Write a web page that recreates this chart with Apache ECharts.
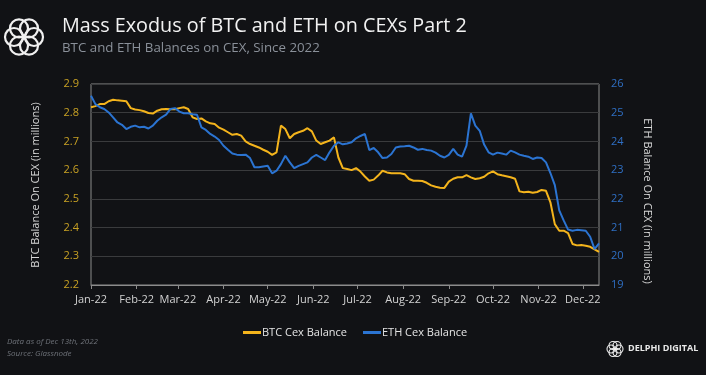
<!DOCTYPE html>
<html>
<head>
<meta charset="utf-8">
<script src="https://cdn.jsdelivr.net/npm/echarts@6/dist/echarts.min.js"></script>
<style>
  html, body { margin: 0; padding: 0; background: #111215; }
  #chart { width: 706px; height: 375px; }
</style>
</head>
<body>
<div id="chart"></div>
<script>
// one reading every 3 days, starting Jan 1st 2022
var start_day = Date.UTC(2022, 0, 1)
var step_days = 3
var month_names = ['Jan', 'Feb', 'Mar', 'Apr', 'May', 'Jun', 'Jul', 'Aug', 'Sep', 'Oct', 'Nov', 'Dec']

// BTC balance on CEX, millions
var btc_balance = [
    2.819, 2.823, 2.830, 2.830, 2.840, 2.845, 2.843, 2.842, 2.840, 2.816,
    2.811, 2.809, 2.805, 2.799, 2.797, 2.807, 2.812, 2.813, 2.812, 2.812,
    2.816, 2.819, 2.813, 2.784, 2.778, 2.780, 2.770, 2.763, 2.761, 2.748,
    2.741, 2.732, 2.723, 2.726, 2.720, 2.700, 2.691, 2.685, 2.679, 2.671,
    2.664, 2.653, 2.662, 2.755, 2.743, 2.711, 2.726, 2.732, 2.737, 2.746,
    2.735, 2.703, 2.691, 2.697, 2.703, 2.714, 2.644, 2.607, 2.604, 2.600,
    2.607, 2.595, 2.578, 2.563, 2.567, 2.581, 2.598, 2.592, 2.589, 2.589,
    2.589, 2.586, 2.569, 2.563, 2.563, 2.562, 2.556, 2.547, 2.542, 2.539,
    2.538, 2.560, 2.570, 2.575, 2.575, 2.583, 2.575, 2.569, 2.572, 2.577,
    2.589, 2.596, 2.586, 2.582, 2.579, 2.575, 2.570, 2.526, 2.523, 2.525,
    2.521, 2.524, 2.531, 2.528, 2.488, 2.412, 2.389, 2.389, 2.381, 2.343,
    2.338, 2.339, 2.337, 2.333, 2.324, 2.315
]

// ETH balance on CEX, millions
var eth_balance = [
    25.59, 25.30, 25.19, 25.13, 25.01, 24.84, 24.66, 24.58, 24.43, 24.51,
    24.55, 24.49, 24.51, 24.45, 24.55, 24.72, 24.84, 24.93, 25.13, 25.16,
    25.04, 24.98, 24.98, 24.95, 24.93, 24.49, 24.40, 24.26, 24.17, 24.05,
    23.85, 23.71, 23.58, 23.54, 23.53, 23.54, 23.42, 23.10, 23.10, 23.13,
    23.15, 22.89, 22.98, 23.21, 23.50, 23.27, 23.07, 23.15, 23.21, 23.27,
    23.44, 23.53, 23.44, 23.35, 23.62, 23.85, 23.97, 23.90, 23.93, 23.97,
    24.11, 24.19, 24.26, 23.70, 23.77, 23.62, 23.42, 23.44, 23.56, 23.79,
    23.82, 23.83, 23.85, 23.79, 23.71, 23.74, 23.70, 23.68, 23.61, 23.50,
    23.44, 23.53, 23.74, 23.54, 23.47, 23.85, 24.98, 24.55, 24.37, 23.89,
    23.62, 23.54, 23.61, 23.58, 23.54, 23.68, 23.62, 23.54, 23.50, 23.47,
    23.39, 23.44, 23.42, 23.27, 22.90, 22.48, 21.60, 21.25, 20.93, 20.89,
    20.92, 20.91, 20.89, 20.68, 20.25, 20.45
]

function with_dates(values) {
    var out = []
    for (var i = 0; i < values.length; i++) {
        out.push([start_day + i * step_days * 86400000, values[i]])
    }
    return out
}

// knot logo made of rings
function knot(cx, cy, dist, r, width) {
    var rings = []
    for (var i = 0; i < 6; i++) {
        var a = i * Math.PI / 3
        rings.push({
            type: 'circle',
            shape: { cx: cx + dist * Math.cos(a), cy: cy + dist * Math.sin(a), r: r },
            style: { fill: 'none', stroke: '#f0f0f0', lineWidth: width }
        })
    }
    return rings
}

var myChart = echarts.init(document.getElementById('chart'))

var option = {
    backgroundColor: '#111215',
    useUTC: true,
    animation: false,
    textStyle: { fontFamily: 'Open Sans' },
    grid: {
        left: 91, right: 107, top: 84, bottom: 90,
        show: true, borderColor: '#8c8c8c', borderWidth: 1
    },
    legend: {
        left: 238, top: 322,
        icon: 'rect', itemWidth: 18, itemHeight: 3, itemGap: 16,
        textStyle: { color: '#e4e4e4', fontSize: 11, fontFamily: 'Open Sans', padding: [0, 0, 0, -4] },
        data: ['BTC Cex Balance', 'ETH Cex Balance']
    },
    xAxis: {
        type: 'time',
        min: start_day,
        max: Date.UTC(2022, 11, 12),
        splitNumber: 12,
        axisLine: { lineStyle: { color: '#8c8c8c' } },
        axisTick: { show: true, length: 4, lineStyle: { color: '#8c8c8c' } },
        splitLine: { show: false },
        axisLabel: {
            color: '#d2d2d2', fontSize: 11, margin: 9, hideOverlap: false,
            showMaxLabel: false,
            formatter: function (value) {
                var d = new Date(value)
                if (d.getUTCDate() !== 1) return ''
                return month_names[d.getUTCMonth()] + '-22'
            }
        }
    },
    yAxis: [
        {
            type: 'value', min: 2.2, max: 2.9, interval: 0.1,
            axisLine: { show: false }, axisTick: { show: false },
            splitLine: { lineStyle: { color: '#3a3b3d' } },
            axisLabel: {
                color: '#c9a224', fontSize: 11, margin: 12,
                formatter: function (v) { return v.toFixed(1) }
            }
        },
        {
            type: 'value', min: 19, max: 26, interval: 1,
            axisLine: { show: false }, axisTick: { show: false },
            splitLine: { show: false },
            axisLabel: { color: '#2f6fc4', fontSize: 11, margin: 12 }
        }
    ],
    series: [
        {
            name: 'BTC Cex Balance',
            type: 'line',
            yAxisIndex: 0,
            showSymbol: false,
            color: '#f4b41c',
            lineStyle: { width: 2 },
            data: with_dates(btc_balance)
        },
        {
            name: 'ETH Cex Balance',
            type: 'line',
            yAxisIndex: 1,
            showSymbol: false,
            color: '#2b74d2',
            lineStyle: { width: 2 },
            data: with_dates(eth_balance)
        }
    ],
    graphic: [
        {
            type: 'text', left: 62, top: 16,
            style: { text: 'Mass Exodus of BTC and ETH on CEXs Part 2', fill: '#f2f2f2', font: '19.8px "Open Sans"' }
        },
        {
            type: 'text', left: 62, top: 42,
            style: { text: 'BTC and ETH Balances on CEX, Since 2022', fill: '#8a9099', font: '13.3px "Open Sans"' }
        },
        {
            type: 'text', x: 36, y: 185, rotation: Math.PI / 2,
            style: { text: 'BTC Balance On CEX (in millions)', fill: '#d8d8d8', font: '11px "Open Sans"', align: 'center', verticalAlign: 'middle' }
        },
        {
            type: 'text', x: 647, y: 201, rotation: -Math.PI / 2,
            style: { text: 'ETH Balance On CEX (in millions)', fill: '#d8d8d8', font: '11px "Open Sans"', align: 'center', verticalAlign: 'middle' }
        },
        {
            type: 'text', left: 7, top: 338,
            style: { text: 'Data as of Dec 13th, 2022', fill: '#6f737a', font: 'italic 8px "Open Sans"' }
        },
        {
            type: 'text', left: 7, top: 350,
            style: { text: 'Source: Glassnode', fill: '#6f737a', font: 'italic 8px "Open Sans"' }
        },
        {
            type: 'text', left: 628, top: 344,
            style: { text: 'DELPHI DIGITAL', fill: '#e8e8e8', font: 'bold 9px "Open Sans"' }
        },
        { type: 'group', children: knot(24, 37, 10, 9, 2.2) },
        { type: 'group', children: knot(615, 349, 4, 4, 1.1) }
    ]
}

myChart.setOption(option)
</script>
</body>
</html>
